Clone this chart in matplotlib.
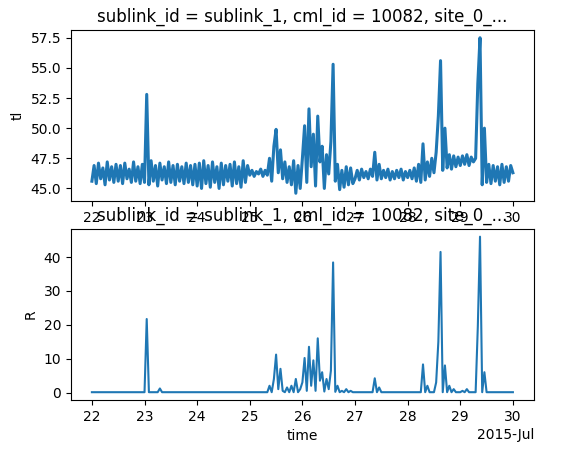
import matplotlib
matplotlib.use("Agg")
import matplotlib.pyplot as plt
import matplotlib.dates as mdates
import pandas as pd

tl = [
45.6,46.9,45.4,47.1,45.8,46.7,45.3,47.2,45.7,46.8,45.5,47.0,45.6,46.9,45.4,47.1,45.8,46.6,45.5,47.2,45.6,46.8,45.4,47.0,
45.5,52.8,45.3,47.3,45.6,46.9,45.2,47.1,45.7,46.8,45.4,47.2,45.5,46.9,45.3,47.0,45.6,46.8,45.4,47.1,45.5,46.9,45.3,47.0,
45.2,47.1,45.0,47.3,45.4,46.9,45.1,47.2,45.5,46.8,45.0,47.1,45.3,46.9,45.6,47.0,45.2,47.2,45.4,46.8,45.1,47.3,45.5,46.9,
46.1,46.5,46.0,46.4,46.2,46.6,46.0,46.5,46.1,47.5,45.6,48.5,49.9,46.3,48.2,45.8,47.2,45.5,46.8,45.3,47.3,44.6,46.9,45.0,
47.5,50.2,45.5,51.6,46.8,49.5,45.2,51.0,47.2,48.5,45.0,47.8,46.2,48.9,55.3,45.6,47.0,44.9,46.5,45.1,46.8,45.3,46.7,45.4,
45.8,46.5,45.7,46.6,45.9,46.4,45.8,46.6,46.0,48.0,45.7,47.0,45.8,46.5,45.9,46.6,45.7,46.4,45.8,46.5,45.9,46.6,45.7,46.4,
45.9,46.5,45.8,46.7,45.6,47.0,45.5,48.7,45.7,47.2,46.0,47.5,46.3,48.0,51.0,55.6,46.5,50.0,46.7,47.8,46.6,47.7,46.8,47.6,
46.9,47.7,47.0,47.8,46.9,47.6,47.2,47.5,53.7,57.5,45.3,50.0,45.5,47.0,45.4,46.9,45.6,46.8,45.3,47.0,45.5,46.8,45.6,46.9,
46.3]

R = [
0.1]*24 + [
0.1,21.7,0.1,0.1,0.1,0.1,0.1,1.2,0.1,0.1,0.1,0.1,0.1,0.1,0.1,0.1,0.1,0.1,0.1,0.1,0.1,0.1,0.1,0.1] + [
0.1]*24 + [
0.1,0.1,0.1,0.1,0.1,0.1,0.1,0.1,0.1,2.0,0.1,4.0,11.2,1.0,7.0,0.5,0.1,1.5,0.1,2.0,0.1,4.0,0.1,1.0,
3.0,10.2,0.5,13.5,2.0,9.5,0.5,16.0,3.5,6.0,0.3,4.0,1.0,6.5,38.4,0.2,2.0,0.1,0.5,0.1,1.0,0.1,0.5,0.1,
0.1,0.1,0.1,0.1,0.1,0.1,0.1,0.1,0.1,4.2,0.1,1.5,0.1,0.1,0.1,0.1,0.1,0.1,0.1,0.1,0.1,0.1,0.1,0.1,
0.1,0.1,0.1,0.1,0.1,0.1,0.1,8.3,0.1,2.0,0.1,0.1,0.1,3.0,15.0,41.5,0.1,8.0,0.1,2.0,0.1,1.0,0.1,0.1,
0.1,0.5,0.1,1.0,0.1,0.1,0.1,0.1,19.5,46.0,0.1,6.0,0.1,0.1,0.1,0.1,0.1,0.1,0.1,0.1,0.1,0.1,0.1,0.1,
0.1]

time = pd.date_range("2015-07-22", periods=len(tl), freq="h")
title = "sublink_id = sublink_1, cml_id = 10082, site_0_..."

fig, axes = plt.subplots(2, 1, figsize=(5.76, 4.54), dpi=100)
fig.subplots_adjust(left=0.123, right=0.927, top=0.934, bottom=0.119, hspace=0.163)
for ax, y, lab, lw in zip(axes, [tl, R], ["tl", "R"], [2.2, 1.5]):
    ax.plot(time, y, color="C0", lw=lw)
    ax.set_title(title)
    ax.set_ylabel(lab)
    ax.set_xlabel("time")
    loc = mdates.AutoDateLocator()
    ax.xaxis.set_major_locator(loc)
    ax.xaxis.set_major_formatter(mdates.ConciseDateFormatter(loc))
axes[0].set_yticks([45.0, 47.5, 50.0, 52.5, 55.0, 57.5])
fig.savefig("out.png")
